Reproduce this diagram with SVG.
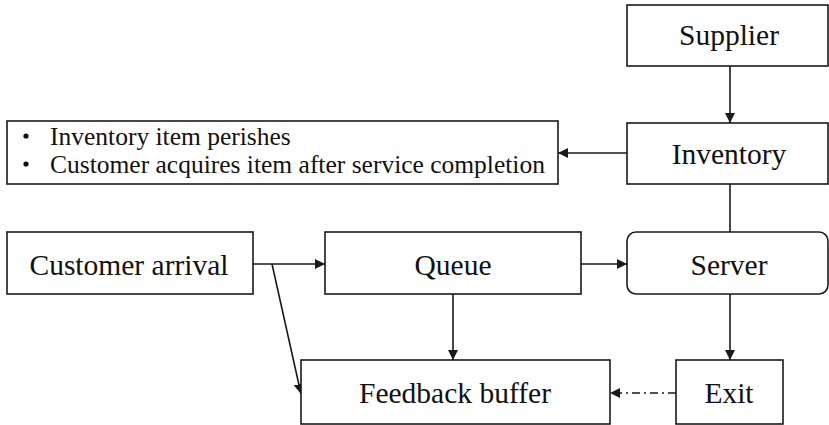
<svg xmlns="http://www.w3.org/2000/svg" width="829" height="425" viewBox="0 0 829 425">
<style>
.box{fill:#fff;stroke:#1a1a1a;stroke-width:1.6}
.lbl{font-family:'Liberation Serif',serif;font-size:29.5px;fill:#111;text-anchor:middle}
.bul{font-family:'Liberation Serif',serif;font-size:25.5px;fill:#111}
.con{fill:none;stroke:#1a1a1a;stroke-width:1.6}
.dd{stroke-dasharray:8 4 2 4}
</style>
<defs>
<marker id="ah" viewBox="0 0 10 10" refX="10" refY="5" markerWidth="10" markerHeight="10" markerUnits="userSpaceOnUse" orient="auto">
<path d="M0,0 L10,5 L0,10 Z" fill="#1a1a1a"/>
</marker>
</defs>
<rect width="829" height="425" fill="#fff"/>
<g id="connectors">
<line class="con" x1="730" y1="66" x2="730" y2="123" marker-end="url(#ah)"/>
<line class="con" x1="627" y1="153" x2="558" y2="153" marker-end="url(#ah)"/>
<line class="con" x1="730" y1="184" x2="730" y2="232"/>
<line class="con" x1="253" y1="264" x2="325" y2="264" marker-end="url(#ah)"/>
<line class="con" x1="272" y1="264" x2="301" y2="394" marker-end="url(#ah)"/>
<line class="con" x1="453" y1="294" x2="453" y2="360" marker-end="url(#ah)"/>
<line class="con" x1="581" y1="264" x2="627" y2="264" marker-end="url(#ah)"/>
<line class="con" x1="730" y1="294" x2="730" y2="360" marker-end="url(#ah)"/>
<line class="con dd" x1="676" y1="393" x2="610" y2="393" marker-end="url(#ah)"/>
</g>
<g id="supplier">
<rect class="box" x="627" y="5" width="201" height="61"/>
<text class="lbl" x="729" y="45">Supplier</text>
</g>
<g id="inventory">
<rect class="box" x="627" y="123" width="201" height="61"/>
<text class="lbl" x="729" y="164">Inventory</text>
</g>
<g id="notes">
<rect class="box" x="7" y="121" width="551" height="63"/>
<circle cx="26" cy="136" r="2.6" fill="#111"/>
<circle cx="26" cy="164" r="2.6" fill="#111"/>
<text class="bul" x="50" y="145">Inventory item perishes</text>
<text class="bul" x="50" y="173">Customer acquires item after service completion</text>
</g>
<g id="customer-arrival">
<rect class="box" x="7" y="232" width="246" height="62"/>
<text class="lbl" x="129" y="275">Customer arrival</text>
</g>
<g id="queue">
<rect class="box" x="325" y="232" width="256" height="62"/>
<text class="lbl" x="453" y="275">Queue</text>
</g>
<g id="server">
<rect class="box" x="627" y="232" width="201" height="62" rx="9"/>
<text class="lbl" x="729" y="275">Server</text>
</g>
<g id="feedback-buffer">
<rect class="box" x="301" y="360" width="309" height="64"/>
<text class="lbl" x="455" y="403">Feedback buffer</text>
</g>
<g id="exit">
<rect class="box" x="676" y="360" width="107" height="64"/>
<text class="lbl" x="729" y="403">Exit</text>
</g>
</svg>
